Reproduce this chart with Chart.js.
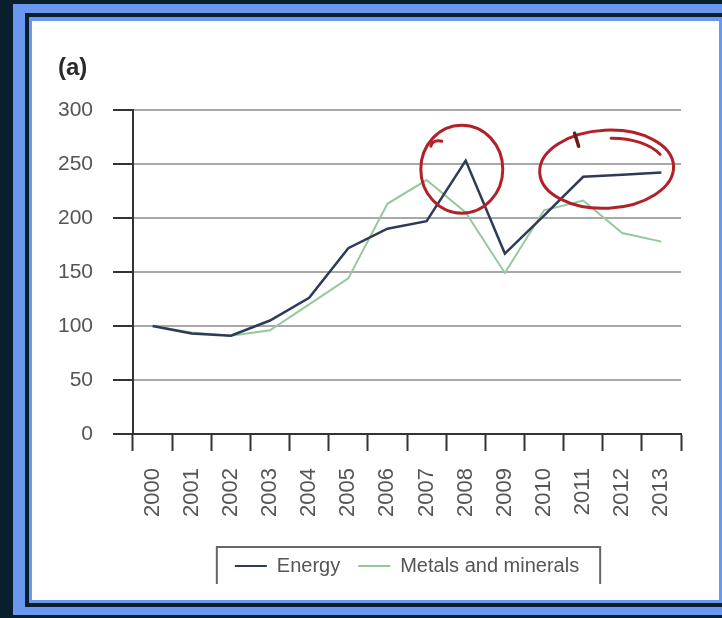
<!DOCTYPE html>
<html>
<head>
<meta charset="utf-8">
<title>Commodity price indices (a)</title>
<script src="https://cdn.jsdelivr.net/npm/chart.js@4/dist/chart.umd.min.js"></script>
<style>
  html, body { margin: 0; padding: 0; background: #0a1f2e; }
  canvas { display: block; }
</style>
</head>
<body>
<canvas id="chart" width="722" height="618"></canvas>
<script>
// Price indices, 2000 = 100
const years = ['2000', '2001', '2002', '2003', '2004', '2005', '2006',
               '2007', '2008', '2009', '2010', '2011', '2012', '2013'];
const energy = [100, 93, 91, 105, 126, 172, 190, 197, 253, 167, 202, 238, 240, 242];
const metals = [100, 94, 91, 96, 120, 144, 213, 235, 205, 149, 207, 216, 186, 178];
const yMin = 0;
const yMax = 300;
const yStep = 50;

const FONT = "'Liberation Sans', Arial, Helvetica, sans-serif";
const ENERGY_COLOR = '#2d3a58';
const METALS_COLOR = '#96c89e';

// Page frame: dark backdrop, blue border and white panel
const framePlugin = {
  id: 'frame',
  beforeDraw(chart) {
    const c = chart.ctx;
    c.save();
    c.fillStyle = '#0a1f2e'; c.fillRect(0, 0, 722, 618);
    c.fillStyle = '#6a98ef'; c.fillRect(13, 4, 709, 611);
    c.fillStyle = '#0a1f2e'; c.fillRect(25, 13, 697, 594);
    c.fillStyle = '#6a98ef'; c.fillRect(29, 17, 693, 586);
    c.fillStyle = '#ffffff'; c.fillRect(32, 21, 687, 579);
    c.restore();
  }
};

// Open-bottomed box around the legend row
const legendBoxPlugin = {
  id: 'legendBox',
  afterDraw(chart) {
    const boxes = chart.legend && chart.legend.legendHitBoxes;
    if (!boxes || !boxes.length) return;
    const left = Math.min(...boxes.map(b => b.left)) - 18;
    const right = Math.max(...boxes.map(b => b.left + b.width)) + 21;
    const cy = boxes[0].top + boxes[0].height / 2;
    const c = chart.ctx;
    c.save();
    c.strokeStyle = '#666';
    c.lineWidth = 2;
    c.beginPath();
    c.moveTo(left, cy + 18);
    c.lineTo(left, cy - 19);
    c.lineTo(right, cy - 19);
    c.lineTo(right, cy + 18);
    c.stroke();
    c.restore();
  }
};

// Hand-drawn red rings around the 2008 energy peak and the 2011-2013 plateau
const ringsPlugin = {
  id: 'rings',
  afterDatasetsDraw(chart) {
    const { ctx, scales: { x, y } } = chart;
    ctx.save();
    ctx.strokeStyle = '#b1212a';
    ctx.lineWidth = 3;
    ctx.lineCap = 'round';

    let cx = x.getPixelForValue(7.9);
    let cy = y.getPixelForValue(245);
    ctx.beginPath();
    ctx.ellipse(cx, cy, 41, 44, 0, 0, Math.PI * 2);
    ctx.stroke();
    ctx.beginPath();
    ctx.moveTo(cx - 31, cy - 23);
    ctx.quadraticCurveTo(cx - 29, cy - 30, cx - 20, cy - 28);
    ctx.stroke();

    cx = x.getPixelForValue(11.6);
    cy = y.getPixelForValue(245);
    ctx.beginPath();
    ctx.ellipse(cx, cy, 67, 39, -0.05, 0, Math.PI * 2);
    ctx.stroke();
    ctx.beginPath();
    ctx.ellipse(cx + 2, cy + 2, 58, 33, -0.05, -1.5, -0.45);
    ctx.stroke();

    ctx.strokeStyle = '#6d1a1e';
    ctx.lineWidth = 3.5;
    ctx.beginPath();
    ctx.moveTo(cx - 32, cy - 36);
    ctx.lineTo(cx - 28, cy - 23);
    ctx.stroke();
    ctx.restore();
  }
};

new Chart(document.getElementById('chart'), {
  type: 'line',
  data: {
    labels: years,
    datasets: [
      {
        label: 'Energy',
        data: energy,
        borderColor: ENERGY_COLOR,
        backgroundColor: ENERGY_COLOR,
        borderWidth: 2.5,
        pointRadius: 0,
        tension: 0,
        fill: false
      },
      {
        label: 'Metals and minerals',
        data: metals,
        borderColor: METALS_COLOR,
        backgroundColor: METALS_COLOR,
        borderWidth: 2,
        pointRadius: 0,
        tension: 0,
        fill: false
      }
    ]
  },
  options: {
    responsive: false,
    animation: false,
    events: [],
    layout: { padding: { left: 58, right: 41, top: 0, bottom: 32 } },
    plugins: {
      title: {
        display: true,
        text: '(a)',
        align: 'start',
        color: '#2b2b2b',
        font: { family: FONT, size: 24, weight: 'bold' },
        padding: { top: 54, bottom: 27 }
      },
      legend: {
        position: 'bottom',
        fullSize: false,
        labels: {
          boxWidth: 32,
          boxHeight: 2,
          padding: 18,
          color: '#555',
          font: { family: FONT, size: 20 },
          generateLabels(chart) {
            return chart.data.datasets.map((ds, i) => ({
              text: ds.label,
              fillStyle: ds.borderColor,
              strokeStyle: ds.borderColor,
              lineWidth: 0,
              fontColor: '#555',
              hidden: false,
              datasetIndex: i
            }));
          }
        }
      },
      tooltip: { enabled: false }
    },
    scales: {
      x: {
        type: 'category',
        offset: true,
        grid: {
          offset: true,
          drawOnChartArea: false,
          tickLength: 17,
          tickColor: '#333',
          tickWidth: 2
        },
        border: { color: '#333', width: 2 },
        ticks: {
          autoSkip: false,
          minRotation: 90,
          maxRotation: 90,
          padding: 17,
          color: '#555',
          font: { family: FONT, size: 22 }
        },
        afterFit(scale) { scale.height = 104; }
      },
      y: {
        min: yMin,
        max: yMax,
        ticks: {
          stepSize: yStep,
          padding: 20,
          color: '#555',
          font: { family: FONT, size: 21 }
        },
        grid: {
          color: '#a8a8a8',
          lineWidth: 2,
          tickLength: 20,
          tickColor: '#333',
          tickWidth: 2
        },
        border: { color: '#333', width: 2 },
        afterFit(scale) { scale.width = 75; }
      }
    }
  },
  plugins: [framePlugin, legendBoxPlugin, ringsPlugin]
});
</script>
</body>
</html>
